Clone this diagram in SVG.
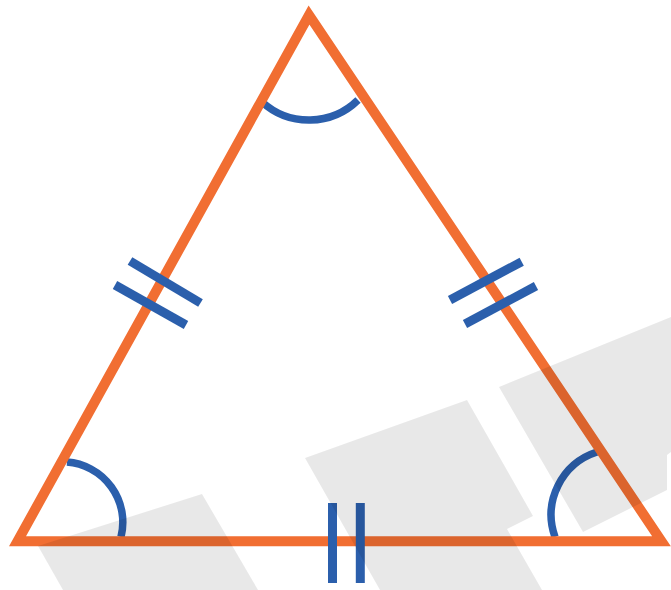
<svg xmlns="http://www.w3.org/2000/svg" width="671" height="590" viewBox="0 0 671 590">
<style>
.tri{fill:none;stroke:#F16E32;stroke-width:10;stroke-linejoin:miter;stroke-miterlimit:10}
.arc{fill:none;stroke:#2B5FAC;stroke-width:7.5}
.tick{stroke:#2B5FAC;stroke-width:9;stroke-linecap:butt}
.shade{fill:#000;fill-opacity:0.09}
</style>
<rect width="671" height="590" fill="#fff"/>
<g id="angle-marks">
<path class="arc" d="M262,102 A70,70 0 0 0 358,100"/>
<path class="arc" d="M67,462 A60.5,60.5 0 0 1 121,537"/>
<path class="arc" d="M597,452 A66,66 0 0 0 555,537"/>
</g>
<g id="triangle">
<polygon class="tri" points="309,15 661.5,541.3 17.5,541.3"/>
</g>
<g id="tick-marks">
<line class="tick" x1="130" y1="261" x2="200.5" y2="303"/>
<line class="tick" x1="115" y1="285" x2="186" y2="325"/>
<line class="tick" x1="450" y1="300" x2="521.7" y2="261.7"/>
<line class="tick" x1="465" y1="324" x2="536" y2="286"/>
<line class="tick" x1="332.5" y1="503" x2="332.5" y2="583"/>
<line class="tick" x1="360.3" y1="503" x2="360.3" y2="583"/>
</g>
<g id="shading">
<polygon class="shade" points="38,546 202,494 258,590 63,590"/>
<polygon class="shade" points="305,458 467,400 533,516 507,529 542,590 380,590"/>
<polygon class="shade" points="499,387 671,317 671,452 667,455 667,490 583,532"/>
</g>
</svg>
